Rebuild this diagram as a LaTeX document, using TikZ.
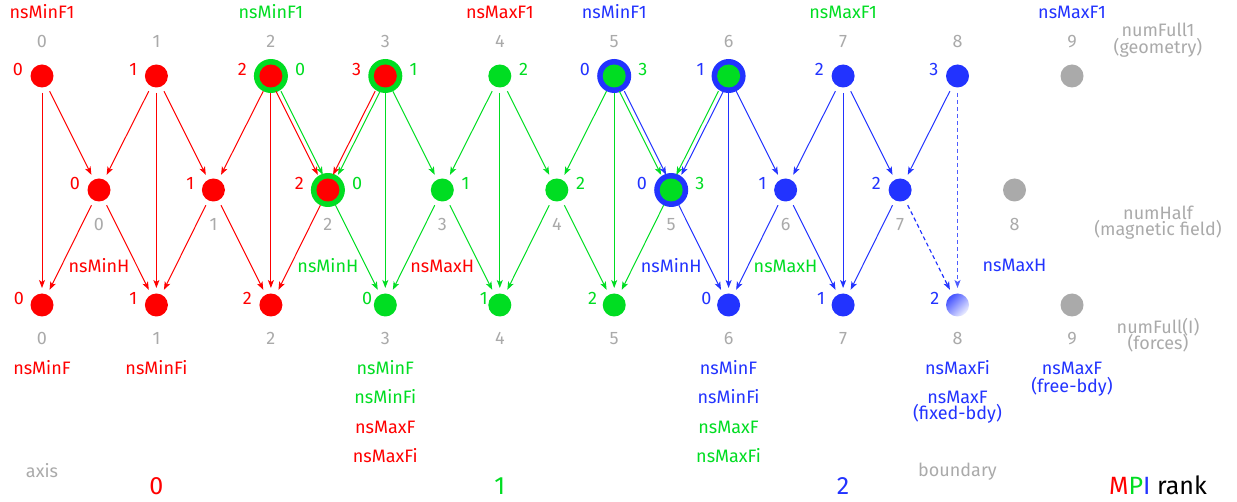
\documentclass[tikz,border=0pt]{standalone}
\usepackage{fontspec}
\setmainfont{Fira Sans}
\usetikzlibrary{arrows.meta}
\definecolor{cr}{HTML}{FF0000}
\definecolor{cg}{HTML}{00DD22}
\definecolor{cb}{HTML}{2233FF}
\definecolor{cgr}{HTML}{AAAAAA}
\begin{document}
\begin{tikzpicture}[x=1pt,y=-1pt,
  dot/.style={circle, minimum size=23pt, inner sep=0pt, outer sep=5.5pt, fill=#1},
  ring/.style 2 args={circle, minimum size=34pt, inner sep=0pt, outer sep=0pt, fill=#1,
     path picture={\fill[#2] (path picture bounding box.center) circle (11.5pt);}},
  e/.style={draw=#1, line width=1pt, -{Stealth[length=8pt,width=6pt,inset=2pt]}},
  lt/.style={transform canvas={xshift=-2.5pt}},
  rt/.style={transform canvas={xshift=2.5pt}},
  txt/.style={inner sep=0pt, anchor=base, font=\fontsize{18}{19}\selectfont},
  gtxt/.style={txt, text=cgr},
  big/.style={inner sep=0pt, anchor=base, font=\fontsize{25}{27}\selectfont},
  rl/.style={txt, anchor=base east, text=#1},
  rr/.style={txt, anchor=base west, text=#1},
  dsh/.style={dash pattern=on 4pt off 3pt, line width=1.2pt},
]
\useasboundingbox (0,0) rectangle (1237,502);

% ---- full1 row
\node[dot=cr] (f1-0) at (42,76) {};
\node[dot=cr] (f1-1) at (156.4,76) {};
\node[ring={cg}{cr}] (f1-2) at (270.9,76) {};
\node[ring={cg}{cr}] (f1-3) at (385.3,76) {};
\node[dot=cg] (f1-4) at (499.8,76) {};
\node[ring={cb}{cg}] (f1-5) at (614.2,76) {};
\node[ring={cb}{cg}] (f1-6) at (728.6,76) {};
\node[dot=cb] (f1-7) at (843.1,76) {};
\node[dot=cb] (f1-8) at (957.5,76) {};
\node[dot=cgr] (f1-9) at (1072,76) {};
% ---- half row
\node[dot=cr] (h-0) at (99,190) {};
\node[dot=cr] (h-1) at (213.4,190) {};
\node[ring={cg}{cr}] (h-2) at (327.9,190) {};
\node[dot=cg] (h-3) at (442.3,190) {};
\node[dot=cg] (h-4) at (556.8,190) {};
\node[ring={cb}{cg}] (h-5) at (671.2,190) {};
\node[dot=cb] (h-6) at (785.6,190) {};
\node[dot=cb] (h-7) at (900.1,190) {};
\node[dot=cgr] (h-8) at (1014.5,190) {};
% ---- full row
\node[dot=cr] (f-0) at (42,305) {};
\node[dot=cr] (f-1) at (156.4,305) {};
\node[dot=cr] (f-2) at (270.9,305) {};
\node[dot=cg] (f-3) at (385.3,305) {};
\node[dot=cg] (f-4) at (499.8,305) {};
\node[dot=cg] (f-5) at (614.2,305) {};
\node[dot=cb] (f-6) at (728.6,305) {};
\node[dot=cb] (f-7) at (843.1,305) {};
\node[circle, minimum size=23pt, inner sep=0pt, outer sep=5.5pt, top color=cb!85, bottom color=cb!8, shading angle=45] (f-8) at (957.5,305) {};
\node[dot=cgr] (f-9) at (1072,305) {};

% ---- red edges
\draw[e=cr] (f1-0) -- (f-0);
\draw[e=cr] (f1-0) -- (h-0);
\draw[e=cr] (f1-1) -- (h-0);
\draw[e=cr] (f1-1) -- (f-1);
\draw[e=cr] (f1-1) -- (h-1);
\draw[e=cr] (f1-2) -- (h-1);
\draw[e=cr] (f1-2) -- (f-2);
\draw[e=cr,lt] (f1-2) -- (h-2);
\draw[e=cr,lt] (f1-3) -- (h-2);
\draw[e=cr] (h-0) -- (f-0);
\draw[e=cr] (h-0) -- (f-1);
\draw[e=cr] (h-1) -- (f-1);
\draw[e=cr] (h-1) -- (f-2);
\draw[e=cr] (h-2) -- (f-2);
% ---- green edges
\draw[e=cg,rt] (f1-2) -- (h-2);
\draw[e=cg,rt] (f1-3) -- (h-2);
\draw[e=cg] (f1-3) -- (f-3);
\draw[e=cg] (f1-3) -- (h-3);
\draw[e=cg] (f1-4) -- (h-3);
\draw[e=cg] (f1-4) -- (f-4);
\draw[e=cg] (f1-4) -- (h-4);
\draw[e=cg] (f1-5) -- (h-4);
\draw[e=cg] (f1-5) -- (f-5);
\draw[e=cg,lt] (f1-5) -- (h-5);
\draw[e=cg,lt] (f1-6) -- (h-5);
\draw[e=cg] (h-2) -- (f-3);
\draw[e=cg] (h-3) -- (f-3);
\draw[e=cg] (h-3) -- (f-4);
\draw[e=cg] (h-4) -- (f-4);
\draw[e=cg] (h-4) -- (f-5);
\draw[e=cg] (h-5) -- (f-5);
% ---- blue edges
\draw[e=cb,rt] (f1-5) -- (h-5);
\draw[e=cb,rt] (f1-6) -- (h-5);
\draw[e=cb] (f1-6) -- (f-6);
\draw[e=cb] (f1-6) -- (h-6);
\draw[e=cb] (f1-7) -- (h-6);
\draw[e=cb] (f1-7) -- (f-7);
\draw[e=cb] (f1-7) -- (h-7);
\draw[e=cb] (f1-8) -- (h-7);
\draw[e=cb!80,dsh] (f1-8) -- (f-8);
\draw[e=cb] (h-5) -- (f-6);
\draw[e=cb] (h-6) -- (f-6);
\draw[e=cb] (h-6) -- (f-7);
\draw[e=cb] (h-7) -- (f-7);
\draw[e=cb,dsh] (h-7) -- (f-8);

% ---- rank labels, full1 row
\node[rl=cr] (r-f1-0) at ([xshift=-19pt]f1-0.center) {0};
\node[rl=cr] (r-f1-1) at ([xshift=-19pt]f1-1.center) {1};
\node[rl=cr] (r-f1-2) at ([xshift=-24pt]f1-2.center) {2};
\node[rr=cg] (s-f1-2) at ([xshift=24pt]f1-2.center) {0};
\node[rl=cr] (r-f1-3) at ([xshift=-24pt]f1-3.center) {3};
\node[rr=cg] (s-f1-3) at ([xshift=24pt]f1-3.center) {1};
\node[rr=cg] (s-f1-4) at ([xshift=19pt]f1-4.center) {2};
\node[rl=cb] (r-f1-5) at ([xshift=-24pt]f1-5.center) {0};
\node[rr=cg] (s-f1-5) at ([xshift=24pt]f1-5.center) {3};
\node[rl=cb] (r-f1-6) at ([xshift=-24pt]f1-6.center) {1};
\node[rl=cb] (r-f1-7) at ([xshift=-19pt]f1-7.center) {2};
\node[rl=cb] (r-f1-8) at ([xshift=-19pt]f1-8.center) {3};
% ---- rank labels, half row
\node[rl=cr] (r-h-0) at ([xshift=-19pt]h-0.center) {0};
\node[rl=cr] (r-h-1) at ([xshift=-19pt]h-1.center) {1};
\node[rl=cr] (r-h-2) at ([xshift=-24pt]h-2.center) {2};
\node[rr=cg] (s-h-2) at ([xshift=24pt]h-2.center) {0};
\node[rr=cg] (s-h-3) at ([xshift=19pt]h-3.center) {1};
\node[rr=cg] (s-h-4) at ([xshift=19pt]h-4.center) {2};
\node[rl=cb] (r-h-5) at ([xshift=-24pt]h-5.center) {0};
\node[rr=cg] (s-h-5) at ([xshift=24pt]h-5.center) {3};
\node[rl=cb] (r-h-6) at ([xshift=-19pt]h-6.center) {1};
\node[rl=cb] (r-h-7) at ([xshift=-19pt]h-7.center) {2};
% ---- rank labels, full row
\node[rl=cr] (r-f-0) at ([xshift=-18pt]f-0.center) {0};
\node[rl=cr] (r-f-1) at ([xshift=-19pt]f-1.center) {1};
\node[rl=cr] (r-f-2) at ([xshift=-19pt]f-2.center) {2};
\node[rl=cg] (r-f-3) at ([xshift=-13pt]f-3.center) {0};
\node[rl=cg] (r-f-4) at ([xshift=-12pt]f-4.center) {1};
\node[rl=cg] (r-f-5) at ([xshift=-17pt]f-5.center) {2};
\node[rl=cb] (r-f-6) at ([xshift=-17pt]f-6.center) {0};
\node[rl=cb] (r-f-7) at ([xshift=-18pt]f-7.center) {1};
\node[rl=cb] (r-f-8) at ([xshift=-18pt]f-8.center) {2};

% ---- grey indices
\node[gtxt] (i-f1-0) at (42,48) {0};
\node[gtxt] (i-f1-1) at (156.4,48) {1};
\node[gtxt] (i-f1-2) at (270.9,48) {2};
\node[gtxt] (i-f1-3) at (385.3,48) {3};
\node[gtxt] (i-f1-4) at (499.8,48) {4};
\node[gtxt] (i-f1-5) at (614.2,48) {5};
\node[gtxt] (i-f1-6) at (728.6,48) {6};
\node[gtxt] (i-f1-7) at (843.1,48) {7};
\node[gtxt] (i-f1-8) at (957.5,48) {8};
\node[gtxt] (i-f1-9) at (1072,48) {9};
\node[gtxt] (i-h-0) at (99,231) {0};
\node[gtxt] (i-h-1) at (213.4,231) {1};
\node[gtxt] (i-h-2) at (327.9,231) {2};
\node[gtxt] (i-h-3) at (442.3,231) {3};
\node[gtxt] (i-h-4) at (556.8,231) {4};
\node[gtxt] (i-h-5) at (671.2,231) {5};
\node[gtxt] (i-h-6) at (785.6,231) {6};
\node[gtxt] (i-h-7) at (900.1,231) {7};
\node[gtxt] (i-h-8) at (1014.5,231) {8};
\node[gtxt] (i-f-0) at (42,345) {0};
\node[gtxt] (i-f-1) at (156.4,345) {1};
\node[gtxt] (i-f-2) at (270.9,345) {2};
\node[gtxt] (i-f-3) at (385.3,345) {3};
\node[gtxt] (i-f-4) at (499.8,345) {4};
\node[gtxt] (i-f-5) at (614.2,345) {5};
\node[gtxt] (i-f-6) at (728.6,345) {6};
\node[gtxt] (i-f-7) at (843.1,345) {7};
\node[gtxt] (i-f-8) at (957.5,345) {8};
\node[gtxt] (i-f-9) at (1072,345) {9};

% ---- grid names
\node[gtxt] (g1a) at (1158,37) {numFull1};
\node[gtxt] (g1b) at (1158,54) {(geometry)};
\node[gtxt] (g2a) at (1158,220) {numHalf};
\node[gtxt] (g2b) at (1158,236) {(magnetic field)};
\node[gtxt] (g3a) at (1158,334) {numFull(I)};
\node[gtxt] (g3b) at (1158,350) {(forces)};

% ---- top labels
\node[txt,text=cr] (t0) at (42,19) {nsMinF1};
\node[txt,text=cg] (t2) at (270.9,19) {nsMinF1};
\node[txt,text=cr] (t4) at (499.8,19) {nsMaxF1};
\node[txt,text=cb] (t5) at (614.2,19) {nsMinF1};
\node[txt,text=cg] (t7) at (843.1,19) {nsMaxF1};
\node[txt,text=cb] (t9) at (1072,19) {nsMaxF1};

% ---- half labels
\node[txt,text=cr] (m0) at (99,273) {nsMinH};
\node[txt,text=cg] (m2) at (327.9,273) {nsMinH};
\node[txt,text=cr] (m3) at (442.3,273) {nsMaxH};
\node[txt,text=cb] (m5) at (671.2,273) {nsMinH};
\node[txt,text=cg] (m6) at (785.6,273) {nsMaxH};
\node[txt,text=cb] (m8) at (1014.5,272) {nsMaxH};

% ---- bottom labels
\node[txt,text=cr] (b0) at (42,375) {nsMinF};
\node[txt,text=cr] (b1) at (156.4,375) {nsMinFi};
\node[txt,text=cg] (b3a) at (385.3,375) {nsMinF};
\node[txt,text=cg] (b3b) at (385.3,404) {nsMinFi};
\node[txt,text=cr] (b3c) at (385.3,433) {nsMaxF};
\node[txt,text=cr] (b3d) at (385.3,462) {nsMaxFi};
\node[txt,text=cb] (b6a) at (728.6,375) {nsMinF};
\node[txt,text=cb] (b6b) at (728.6,404) {nsMinFi};
\node[txt,text=cg] (b6c) at (728.6,433) {nsMaxF};
\node[txt,text=cg] (b6d) at (728.6,462) {nsMaxFi};
\node[txt,text=cb] (b8a) at (957.5,375) {nsMaxFi};
\node[txt,text=cb] (b8b) at (957.5,403) {nsMaxF};
\node[txt,text=cb] (b8c) at (957.5,420) {(fixed-bdy)};
\node[txt,text=cb] (b9a) at (1072,375) {nsMaxF};
\node[txt,text=cb] (b9b) at (1072,392) {(free-bdy)};

% ---- MPI rank legend
\node[gtxt] (axis) at (42,477) {axis};
\node[gtxt] (bdy) at (957.5,476) {boundary};
\node[big,text=cr] (k0) at (156.4,494) {0};
\node[big,text=cg] (k1) at (499.8,494) {1};
\node[big,text=cb] (k2) at (843.1,494) {2};
\node[big] (mpi) at (1158,494) {\textcolor{cr}{M}\textcolor{cg}{P}\textcolor{cb}{I} rank};
\end{tikzpicture}
\end{document}
